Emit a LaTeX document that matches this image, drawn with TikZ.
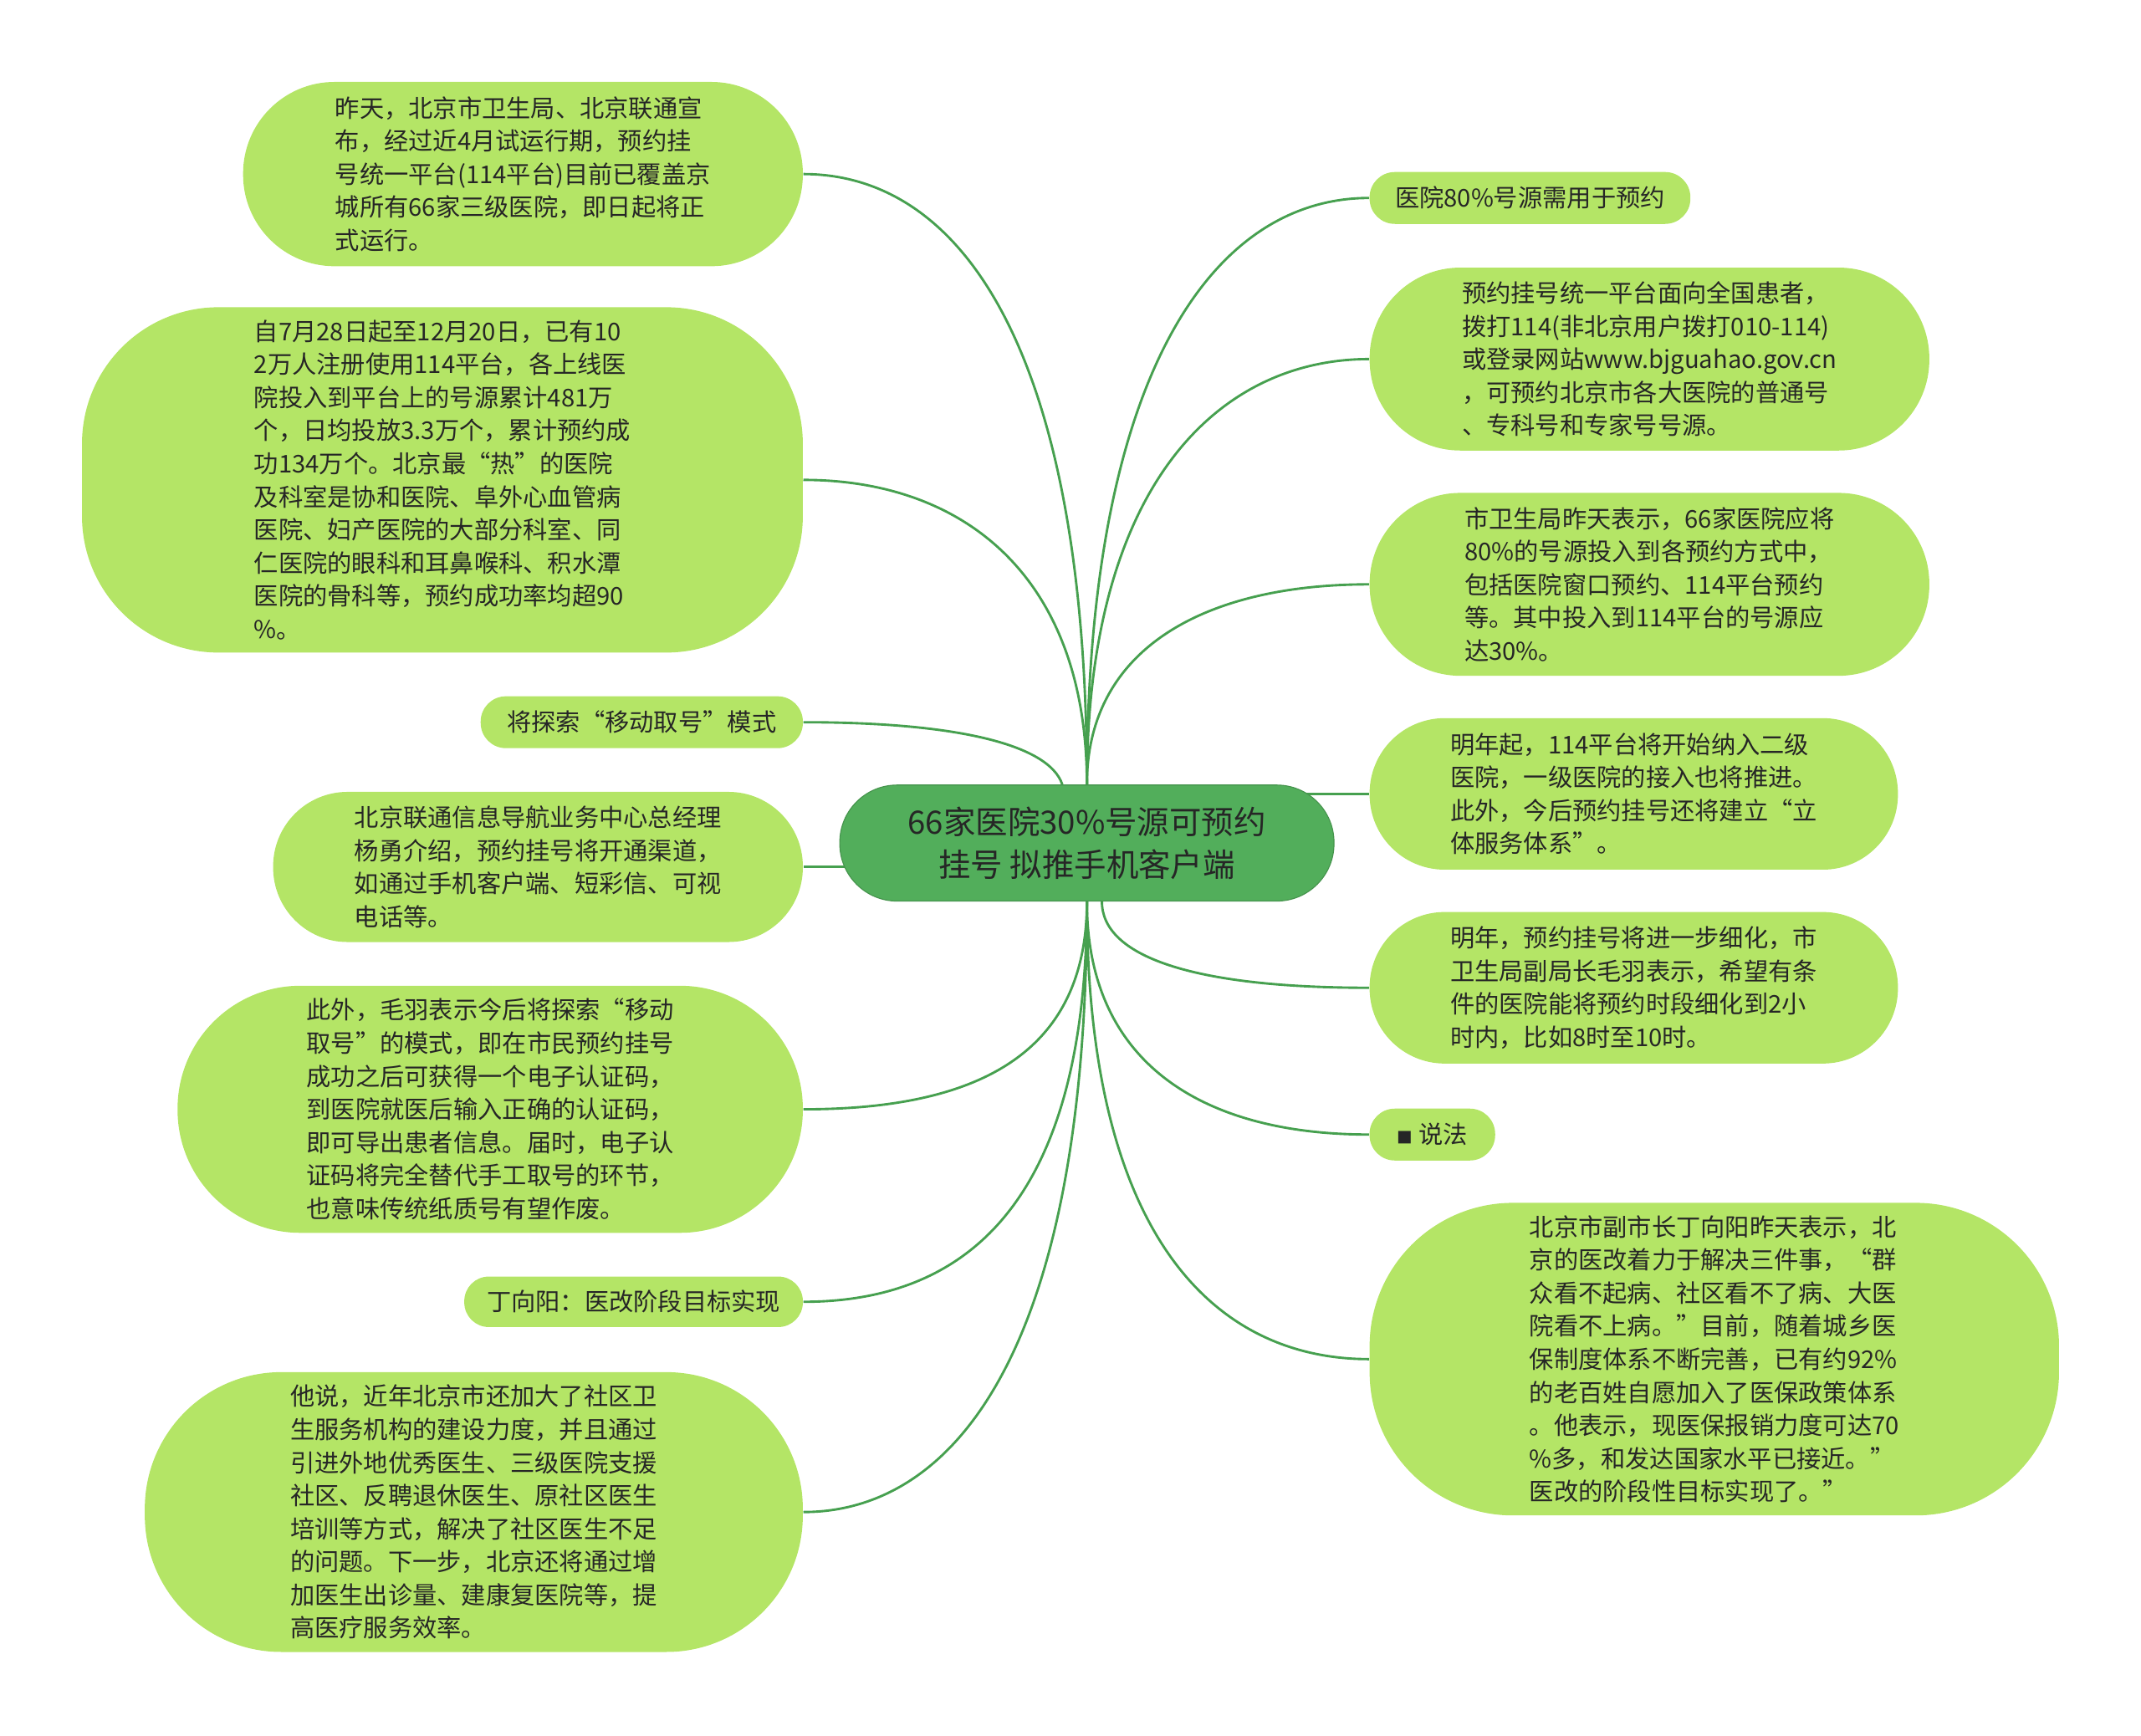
\documentclass[tikz,border=0pt]{standalone}
\usepackage{fontspec}
\setmainfont{Noto Sans CJK SC}
\usetikzlibrary{backgrounds}

\definecolor{leafgreen}{HTML}{B4E566}
\definecolor{rootgreen}{HTML}{52AE5B}
\definecolor{linegreen}{HTML}{46A04F}
\definecolor{inkdark}{HTML}{262626}

\begin{document}
\begin{tikzpicture}[x=0.02cm, y=-0.02cm,
        leaf/.style={fill=leafgreen, text=inkdark, align=left, inner sep=0pt, font=\fontsize{10.2}{13.8}\selectfont},
        root/.style={fill=rootgreen, draw=rootgreen!85!black, line width=0.4pt, text=inkdark, align=center, inner sep=0pt, font=\fontsize{13.4}{17.6}\selectfont},
        link/.style={draw=linegreen, line width=1pt}
      ]
        \useasboundingbox (0,0) rectangle (1568,1271);
        \node[root, minimum width=7.24cm, minimum height=1.7cm, rounded corners=0.84cm] (root) at (796,617.5) {66家医院30\%号源可预约\\挂号 拟推手机客户端};
        % left side
        \node[leaf, minimum width=8.2cm, minimum height=2.7cm, rounded corners=1.34cm] (trial) at (383,127.5) {昨天，北京市卫生局、北京联通宣\\布，经过近4月试运行期，预约挂\\号统一平台(114平台)目前已覆盖京\\城所有66家三级医院，即日起将正\\式运行。};
        \node[leaf, minimum width=10.56cm, minimum height=5.06cm, rounded corners=2cm] (stats) at (324,351.5) {自7月28日起至12月20日，已有10\\2万人注册使用114平台，各上线医\\院投入到平台上的号源累计481万\\个，日均投放3.3万个，累计预约成\\功134万个。北京最“热”的医院\\及科室是协和医院、阜外心血管病\\医院、妇产医院的大部分科室、同\\仁医院的眼科和耳鼻喉科、积水潭\\医院的骨科等，预约成功率均超90\\\%。};
        \node[leaf, minimum width=4.72cm, minimum height=0.76cm, rounded corners=0.37cm] (mobile) at (470,529) {将探索“移动取号”模式};
        \node[leaf, minimum width=7.76cm, minimum height=2.2cm, rounded corners=1.09cm] (unicom) at (394,635) {北京联通信息导航业务中心总经理\\杨勇介绍，预约挂号将开通渠道，\\如通过手机客户端、短彩信、可视\\电话等。};
        \node[leaf, minimum width=9.16cm, minimum height=3.62cm, rounded corners=1.8cm] (code) at (359,812.5) {此外，毛羽表示今后将探索“移动\\取号”的模式，即在市民预约挂号\\成功之后可获得一个电子认证码，\\到医院就医后输入正确的认证码，\\即可导出患者信息。届时，电子认\\证码将完全替代手工取号的环节，\\也意味传统纸质号有望作废。};
        \node[leaf, minimum width=4.96cm, minimum height=0.74cm, rounded corners=0.36cm] (ding) at (464,953.5) {丁向阳：医改阶段目标实现};
        \node[leaf, minimum width=9.64cm, minimum height=4.1cm, rounded corners=2cm] (community) at (347,1107.5) {他说，近年北京市还加大了社区卫\\生服务机构的建设力度，并且通过\\引进外地优秀医生、三级医院支援\\社区、反聘退休医生、原社区医生\\培训等方式，解决了社区医生不足\\的问题。下一步，北京还将通过增\\加医生出诊量、建康复医院等，提\\高医疗服务效率。};
        % right side
        \node[leaf, minimum width=4.7cm, minimum height=0.76cm, rounded corners=0.37cm] (share) at (1120.5,145) {医院80\%号源需用于预约};
        \node[leaf, minimum width=8.2cm, minimum height=2.68cm, rounded corners=1.33cm] (platform) at (1208,263) {预约挂号统一平台面向全国患者，\\拨打114(非北京用户拨打010-114)\\或登录网站www.bjguahao.gov.cn\\，可预约北京市各大医院的普通号\\、专科号和专家号号源。};
        \node[leaf, minimum width=8.2cm, minimum height=2.68cm, rounded corners=1.33cm] (quota) at (1208,428) {市卫生局昨天表示，66家医院应将\\80\%的号源投入到各预约方式中，\\包括医院窗口预约、114平台预约\\等。其中投入到114平台的号源应\\达30\%。};
        \node[leaf, minimum width=7.74cm, minimum height=2.22cm, rounded corners=1.1cm] (level) at (1196.5,581.5) {明年起，114平台将开始纳入二级\\医院，一级医院的接入也将推进。\\此外，今后预约挂号还将建立“立\\体服务体系”。};
        \node[leaf, minimum width=7.74cm, minimum height=2.22cm, rounded corners=1.1cm] (slot) at (1196.5,723.5) {明年，预约挂号将进一步细化，市\\卫生局副局长毛羽表示，希望有条\\件的医院能将预约时段细化到2小\\时内，比如8时至10时。};
        \node[leaf, minimum width=1.84cm, minimum height=0.76cm, rounded corners=0.37cm] (saying) at (1049,831) {{\fontsize{6.5}{6.5}\selectfont ■} 说法};
        \node[leaf, minimum width=10.1cm, minimum height=4.58cm, rounded corners=2.1cm] (reform) at (1255.5,995.5) {北京市副市长丁向阳昨天表示，北\\京的医改着力于解决三件事，“群\\众看不起病、社区看不了病、大医\\院看不上病。”目前，随着城乡医\\保制度体系不断完善，已有约92\%\\的老百姓自愿加入了医保政策体系\\。他表示，现医保报销力度可达70\\\%多，和发达国家水平已接近。”\\医改的阶段性目标实现了。”};
        \begin{scope}[on background layer]
          \draw[link] (root.north) .. controls +(0,-310) and +(120,0) .. (trial.east);
          \draw[link] (root.north) .. controls +(0,-150) and +(120,0) .. (stats.east);
          \draw[link] ([xshift=-0.36cm]root.north) .. controls +(-10,-30) and +(110,0) .. (mobile.east);
          \draw[link] (unicom.east) -- (root.center |- unicom.east);
          \draw[link] (root.south) .. controls +(0,110) and +(130,0) .. (code.east);
          \draw[link] (root.south) .. controls +(0,220) and +(120,0) .. (ding.east);
          \draw[link] (root.south) .. controls +(0,330) and +(110,0) .. (community.east);
          \draw[link] (root.north) .. controls +(0,-300) and +(-115,0) .. (share.west);
          \draw[link] (root.north) .. controls +(0,-220) and +(-110,0) .. (platform.west);
          \draw[link] (root.north) .. controls +(0,-100) and +(-120,0) .. (quota.west);
          \draw[link] (level.west) -- (root.center |- level.west);
          \draw[link] ([xshift=0.22cm]root.south) .. controls +(0,40) and +(-130,0) .. (slot.west);
          \draw[link] (root.south) .. controls +(0,120) and +(-120,0) .. (saying.west);
          \draw[link] (root.south) .. controls +(0,250) and +(-110,0) .. (reform.west);
        \end{scope}
      \end{tikzpicture}
\end{document}
